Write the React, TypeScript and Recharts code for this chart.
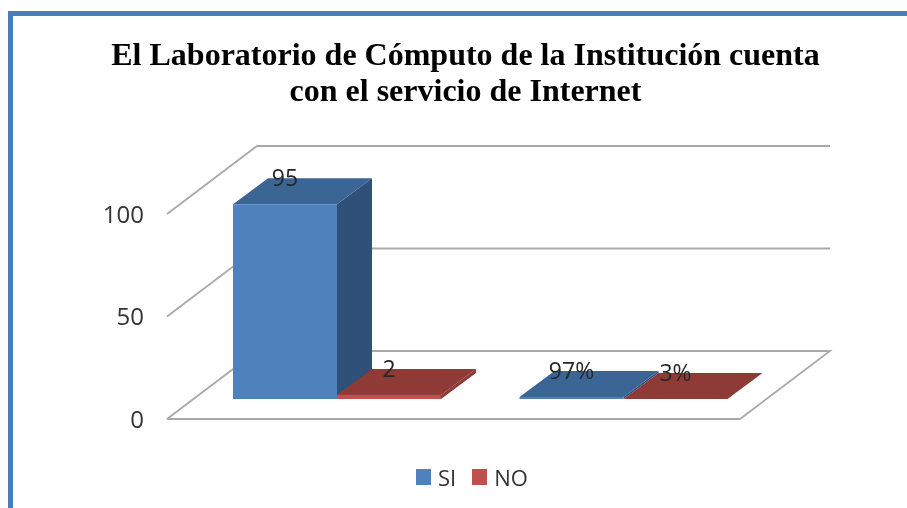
import React from "react";
import { BarChart, Bar, XAxis, YAxis, CartesianGrid, Legend, LabelList } from "recharts";

const categories = ["A", "B"];
const siValues = [95, 0.97];
const noValues = [2, 0.03];
const siLabels = ["95", "97%"];
const noLabels = ["2", "3%"];
const yTicks = [0, 50, 100];
const titleLines = [
  "El Laboratorio de Cómputo de la Institución cuenta",
  "con el servicio de Internet",
];

const chartData = categories.map((c, i) => ({
  cat: c,
  SI: siValues[i],
  NO: noValues[i],
  siLabel: siLabels[i],
  noLabel: noLabels[i],
}));

const SANS = "'Open Sans', sans-serif";
const SHIFT_X = 27;
const SHIFT_Y = -20;
const DEPTH_X = 35;
const DEPTH_Y = -26;
const WALL_X = 90;
const WALL_Y = -68;
const GRID = "#a9a9a9";

function box(color: { front: string; top: string; side: string }) {
  return (p: any) => {
    const x = p.x + SHIFT_X;
    const y = p.y + SHIFT_Y;
    const w = p.width;
    const h = p.height;
    const r = x + w;
    const b = y + h;
    return (
      <g>
        <path d={`M${r},${y}L${r + DEPTH_X},${y + DEPTH_Y}L${r + DEPTH_X},${b + DEPTH_Y}L${r},${b}Z`} fill={color.side} />
        <path d={`M${x},${y}L${x + DEPTH_X},${y + DEPTH_Y}L${r + DEPTH_X},${y + DEPTH_Y}L${r},${y}Z`} fill={color.top} />
        <rect x={x} y={y} width={w} height={h} fill={color.front} />
      </g>
    );
  };
}

const siShape = box({ front: "#4f81bd", top: "#3b6595", side: "#2f5079" });
const noShape = box({ front: "#c0504d", top: "#8e3a37", side: "#8e3a37" });

const GridLine = (p: any) => {
  const { x1, x2, y1 } = p;
  const isFloor = y1 > 400;
  const d = isFloor
    ? `M${x1},${y1}L${x2},${y1}L${x2 + WALL_X},${y1 + WALL_Y}L${x1 + WALL_X},${y1 + WALL_Y}L${x1},${y1}`
    : `M${x1},${y1}L${x1 + WALL_X},${y1 + WALL_Y}L${x2 + WALL_X},${y1 + WALL_Y}`;
  return <path d={d} fill="none" stroke={GRID} strokeWidth={1.8} />;
};

const barLabel = (p: any) => (
  <text
    x={p.x + p.width / 2 + SHIFT_X}
    y={p.y + SHIFT_Y - 27}
    textAnchor="middle"
    dominantBaseline="central"
    fontFamily={SANS}
    fontSize={23}
    fill="#262626"
  >
    {p.value}
  </text>
);

const legendContent = (p: any) => (
  <div style={{ display: "flex", alignItems: "center", fontFamily: SANS, fontSize: 22, color: "#333", height: 30 }}>
    {(p.payload || []).map((e: any, i: number) => (
      <div key={e.value} style={{ display: "flex", alignItems: "center", marginRight: i === 0 ? 16 : 0 }}>
        <span style={{ width: 15, height: 16, background: e.color, marginRight: 7, display: "inline-block" }} />
        <span>{e.value}</span>
      </div>
    ))}
  </div>
);

export default function App() {
  return (
    <div style={{ position: "absolute", left: 0, top: 0, width: 907, height: 508, overflow: "hidden", background: "#fff", filter: "blur(0.4px)" }}>
      <div
        style={{
          position: "absolute",
          left: 8,
          top: 11,
          width: 899,
          height: 497,
          boxSizing: "border-box",
          borderTop: "5px solid #4a7ebb",
          borderLeft: "5px solid #4a7ebb",
        }}
      />
      <BarChart
        width={907}
        height={508}
        data={chartData}
        margin={{ top: 214, right: 167, bottom: 89, left: 107 }}
        barGap={0}
        barSize={104}
        style={{ position: "absolute", left: 0, top: 0 }}
      >
        <text x={465.5} y={65} textAnchor="middle" fontFamily="'Liberation Serif', serif" fontWeight="bold" fontSize={32} fill="#000">
          {titleLines[0]}
        </text>
        <text x={465.5} y={101} textAnchor="middle" fontFamily="'Liberation Serif', serif" fontWeight="bold" fontSize={32} fill="#000">
          {titleLines[1]}
        </text>
        <CartesianGrid vertical={false} horizontal={GridLine} />
        <XAxis dataKey="cat" hide />
        <YAxis
          width={60}
          domain={[0, 100]}
          ticks={yTicks}
          axisLine={false}
          tickLine={false}
          tickSize={0}
          tickMargin={23}
          tick={{ fontFamily: SANS, fontSize: 24, fill: "#333" }}
        />
        <Legend
          layout="horizontal"
          verticalAlign="middle"
          align="center"
          itemSorter={null}
          content={legendContent}
          wrapperStyle={{ left: 416, top: 462, width: 200 }}
        />
        <Bar dataKey="SI" name="SI" fill="#4f81bd" shape={siShape} isAnimationActive={false}>
          <LabelList dataKey="siLabel" content={barLabel} />
        </Bar>
        <Bar dataKey="NO" name="NO" fill="#c0504d" shape={noShape} isAnimationActive={false}>
          <LabelList dataKey="noLabel" content={barLabel} />
        </Bar>
      </BarChart>
    </div>
  );
}
